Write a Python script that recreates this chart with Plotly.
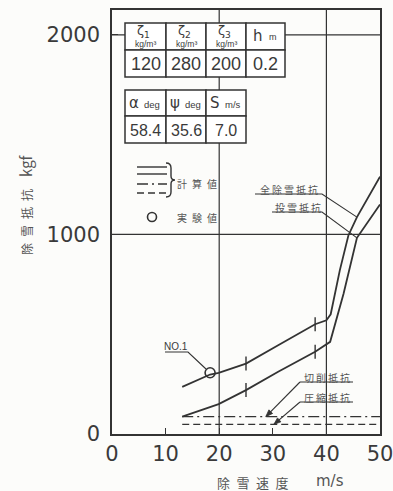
import numpy as np
import plotly.graph_objects as go

# Snow removal resistance (kgf) against snow removal speed (m/s)
total_speed = [13.1, 18.3, 19.9, 25.0, 31.0, 37.9, 40.0, 40.8, 42.5, 44.1, 45.7, 50.0]
total_force = [236, 298, 306, 353, 445, 550, 570, 600, 820, 995, 1087, 1290]
throw_speed = [13.1, 16.5, 19.9, 25.0, 31.0, 37.9, 40.7, 43.2, 45.7, 50.0]
throw_force = [87, 118, 150, 220, 312, 412, 462, 703, 983, 1150]
cut_speed = [13.1, 50.0]
cut_force = [87, 87]
comp_speed = [13.1, 50.0]
comp_force = [48, 48]
mark_speed = [25.0, 37.9]          # marked points on the two resistance curves
exp_speed = [18.3]                 # experimental value NO.1
exp_force = [307]

x_ticks = [0, 10, 20, 30, 40, 50]
y_ticks = [0, 1000, 2000]
x_grid = [20, 40]
y_grid = [1000, 2000]
x_range = [0, 50]
y_range = [0, 2125]

table1_heads = ["ζ<sub>1</sub>", "ζ<sub>2</sub>", "ζ<sub>3</sub>", "h"]
table1_units = ["kg/m³", "kg/m³", "kg/m³", "m"]
table1_vals = ["120", "280", "200", "0.2"]
table2_heads = ["α", "ψ", "S"]
table2_units = ["deg", "deg", "m/s"]
table2_vals = ["58.4", "35.6", "7.0"]

INK = "#333333"
TXT = "#3a3a3a"
CJK = "Noto Sans CJK JP"
W, H = 393, 491
L, R, T, B = 112, 380, 10, 434


def px(x):
    return (x - L) / (R - L)


def py(y):
    return (B - y) / (B - T)


def dx(x):
    return x_range[0] + px(x) * (x_range[1] - x_range[0])


def dy(y):
    return y_range[0] + py(y) * (y_range[1] - y_range[0])


def to_px(xd, yd):
    return (L + (xd - x_range[0]) / (x_range[1] - x_range[0]) * (R - L),
            B - (yd - y_range[0]) / (y_range[1] - y_range[0]) * (B - T))


def spaced(s, sep="\u2009"):
    return sep.join(s)


fig = go.Figure()

line_w = 1.8
fig.add_trace(go.Scatter(x=total_speed, y=total_force, mode="lines",
                         line=dict(color=INK, width=line_w)))
fig.add_trace(go.Scatter(x=throw_speed, y=throw_force, mode="lines",
                         line=dict(color=INK, width=line_w)))
fig.add_trace(go.Scatter(x=cut_speed, y=cut_force, mode="lines",
                         line=dict(color=INK, width=1.4, dash="11px,4px,2px,4px")))
fig.add_trace(go.Scatter(x=comp_speed, y=comp_force, mode="lines",
                         line=dict(color=INK, width=1.4, dash="7px,4px")))

# short cross marks on the curves
for xs, ys in [(total_speed, total_force), (throw_speed, throw_force)]:
    fig.add_trace(go.Scatter(
        x=mark_speed, y=list(np.interp(mark_speed, xs, ys)), mode="markers",
        marker=dict(symbol="line-ns", size=10, line=dict(color=INK, width=1.4))))

fig.add_trace(go.Scatter(
    x=exp_speed, y=exp_force, mode="markers",
    marker=dict(symbol="circle-open", size=10, color=INK, line=dict(width=1.6))))

shapes = []
annotations = []

# grid lines
for g in x_grid:
    shapes.append(dict(type="line", xref="x", yref="paper", x0=g, x1=g, y0=0, y1=1,
                       line=dict(color=INK, width=1.2), layer="below"))
for g in y_grid:
    shapes.append(dict(type="line", xref="paper", yref="y", x0=0, x1=1, y0=g, y1=g,
                       line=dict(color=INK, width=1.2), layer="below"))


def cell(x0, x1, y0, y1):
    shapes.append(dict(type="rect", xref="paper", yref="paper",
                       x0=px(x0), x1=px(x1), y0=py(y1), y1=py(y0),
                       fillcolor="white", line=dict(color=INK, width=1.5), layer="above"))


def text(x, y, s, size, font="Liberation Sans", color=TXT, xanchor="center", angle=0):
    annotations.append(dict(xref="paper", yref="paper", x=px(x), y=py(y), text=s,
                            showarrow=False, xanchor=xanchor, yanchor="middle",
                            textangle=angle,
                            font=dict(family=font, size=size, color=color)))


# parameter table 1
c1 = [125, 166, 206, 246, 285]
r1 = [23, 50, 77]
for i in range(4):
    cell(c1[i], c1[i + 1], r1[0], r1[1])
    cell(c1[i], c1[i + 1], r1[1], r1[2])
    cx = (c1[i] + c1[i + 1]) / 2
    if i < 3:
        text(cx - 2, 31, table1_heads[i], 13, font="DejaVu Sans")
        text(cx, 44, table1_units[i], 8.5)
    else:
        text(c1[i] + 12, 36, table1_heads[i], 15, font="DejaVu Sans")
        text(c1[i] + 27, 37, table1_units[i], 9)
    text(cx, 64, table1_vals[i], 18)

# parameter table 2
c2 = [125, 166, 206, 246]
r2 = [90, 116, 143]
for i in range(3):
    cell(c2[i], c2[i + 1], r2[0], r2[1])
    cell(c2[i], c2[i + 1], r2[1], r2[2])
    cx = (c2[i] + c2[i + 1]) / 2
    text(c2[i] + 9, 103, table2_heads[i], 15, font="DejaVu Sans")
    text(c2[i] + 27, 104, table2_units[i], 9.5)
    text(cx, 130, table2_vals[i], 16)

# legend block
leg_dash = [None, None, "11px,4px,2px,4px", "7px,4px"]
leg_y = [167, 174, 184, 193]
for yy, dsh in zip(leg_y, leg_dash):
    ln = dict(color=INK, width=1.4)
    if dsh:
        ln["dash"] = dsh
    shapes.append(dict(type="line", xref="paper", yref="paper",
                       x0=px(137), x1=px(167), y0=py(yy), y1=py(yy), line=ln))
brace_pts = [("M", 166, 163), ("Q", 171, 163, 171, 168), ("L", 171, 176),
             ("Q", 171, 180, 175, 180), ("Q", 171, 180, 171, 184), ("L", 171, 192),
             ("Q", 171, 197, 166, 197)]
path = ""
for p in brace_pts:
    cmd = p[0]
    coords = p[1:]
    pts = [f"{px(coords[k])},{py(coords[k + 1])}" for k in range(0, len(coords), 2)]
    path += cmd + " " + " ".join(pts) + " "
shapes.append(dict(type="path", xref="paper", yref="paper", path=path,
                   line=dict(color=INK, width=1.4)))
text(197, 183, spaced("計算値", "\u2002"), 10, font=CJK, color="#555")
shapes.append(dict(type="circle", xref="paper", yref="paper",
                   x0=px(147.5), x1=px(156.5), y0=py(221.5), y1=py(212.5),
                   line=dict(color=INK, width=1.6)))
text(197, 217, spaced("実験値", "\u2002"), 10, font=CJK, color="#555")


def leader(points_px, end_data=None):
    xs = [dx(p[0]) for p in points_px]
    ys = [dy(p[1]) for p in points_px]
    if end_data is not None:
        xs.append(end_data[0])
        ys.append(end_data[1])
    d = "M " + " L ".join(f"{a},{b}" for a, b in zip(xs, ys))
    shapes.append(dict(type="path", xref="x", yref="y", path=d,
                       line=dict(color=INK, width=1.1)))


def arrow(tail_px, head_data):
    hx, hy = to_px(*head_data)
    tx, ty = tail_px
    leader([tail_px], head_data)
    ux, uy = hx - tx, hy - ty
    n = (ux ** 2 + uy ** 2) ** 0.5
    ux, uy = ux / n, uy / n
    bx, by = hx - 7 * ux, hy - 7 * uy
    p1 = (bx - 2.6 * uy, by + 2.6 * ux)
    p2 = (bx + 2.6 * uy, by - 2.6 * ux)
    d = (f"M {dx(hx)},{dy(hy)} L {dx(p1[0])},{dy(p1[1])} "
         f"L {dx(p2[0])},{dy(p2[1])} Z")
    shapes.append(dict(type="path", xref="x", yref="y", path=d,
                       fillcolor=INK, line=dict(color=INK, width=0.8)))


# curve labels
text(289, 189, spaced("全除雪抵抗"), 10, font=CJK, color="#555")
leader([(255, 194), (322, 194)], (45.7, float(np.interp(45.7, total_speed, total_force))))
text(298, 207, spaced("投雪抵抗"), 10, font=CJK, color="#555")
leader([(272, 212), (322, 212)], (45.7, float(np.interp(45.7, throw_speed, throw_force))))

text(327, 377, spaced("切削抵抗"), 10, font=CJK, color="#555")
leader([(353, 382), (300, 382)])
arrow((300, 382), (28.7, cut_force[0]))
text(327, 397, spaced("圧縮抵抗"), 10, font=CJK, color="#555")
leader([(353, 402), (300, 402)])
arrow((300, 402), (30.2, comp_force[0]))

text(176, 346, "NO.1", 10)
leader([(165, 352), (188, 352), (206, 369)])

# axis titles
text(253, 482, spaced("除雪速度", "\u2002"), 13, font=CJK, color="#555")
text(330, 481, "m/s", 15, font="DejaVu Sans", color="#555")
text(25, 205, spaced("除雪抵抗", "\u2002") + "\u2003<span style='font-size:15px'>kgf</span>",
     12, font=CJK, color="#555", angle=-90)

axis_common = dict(showline=True, mirror=True, linecolor=INK, linewidth=1.6,
                   showgrid=False, zeroline=False, ticks="inside", ticklen=6,
                   tickwidth=1.3, tickcolor=INK, ticklabeloverflow="allow",
                   automargin=False,
                   tickfont=dict(family="DejaVu Sans", size=21, color=TXT))

fig.update_layout(
    width=W, height=H,
    margin=dict(l=L, r=W - R, t=T, b=H - B, autoexpand=False),
    paper_bgcolor="#fcfcfa", plot_bgcolor="#fcfcfa",
    showlegend=False,
    xaxis=dict(range=x_range, tickvals=x_ticks, **axis_common),
    yaxis=dict(range=y_range, tickvals=y_ticks, ticklabelstandoff=6, **axis_common),
    shapes=shapes, annotations=annotations,
)

fig.write_html("out.html")
